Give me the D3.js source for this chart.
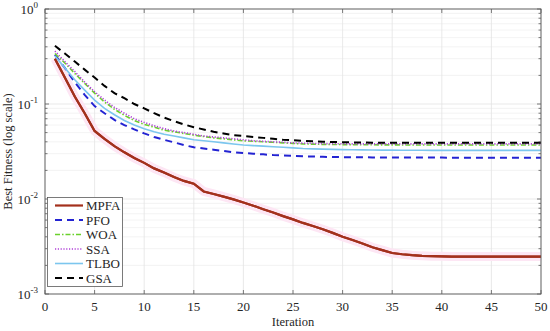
<!DOCTYPE html>
<html>
<head>
<meta charset="utf-8">
<script src="https://cdn.jsdelivr.net/npm/d3@7"></script>
<style>
  body { margin: 0; background: #fff; }
</style>
</head>
<body>
<svg id="plot"></svg>
<script>
// iteration axis
var iterations = d3.range(1, 51);

// fitness values, one per iteration
var mpfa = [0.30, 0.19, 0.12, 0.08, 0.052, 0.043, 0.036, 0.031, 0.027, 0.024,
            0.021, 0.019, 0.017, 0.0155, 0.0145, 0.012, 0.0113, 0.0106, 0.0099, 0.0092,
            0.0085, 0.0078, 0.0072, 0.0066, 0.0061, 0.0056, 0.0052, 0.0048, 0.0044, 0.0040,
            0.0037, 0.0034, 0.0031, 0.0029, 0.0027, 0.00262, 0.00256, 0.00252, 0.0025, 0.00249,
            0.00248, 0.00248, 0.00248, 0.00248, 0.00248, 0.00248, 0.00248, 0.00248, 0.00248, 0.00248];
var pfo = [0.33, 0.24, 0.17, 0.125, 0.095, 0.08, 0.068, 0.06, 0.054, 0.049,
           0.045, 0.042, 0.0395, 0.037, 0.035, 0.034, 0.033, 0.032, 0.031, 0.0305,
           0.030, 0.0295, 0.029, 0.0287, 0.0284, 0.0282, 0.028, 0.0278, 0.0277, 0.0276,
           0.0275, 0.0275, 0.0274, 0.0274, 0.0274, 0.0273, 0.0273, 0.0273, 0.0273, 0.0273,
           0.0272, 0.0272, 0.0272, 0.0272, 0.0272, 0.0272, 0.0272, 0.0272, 0.0272, 0.0272];
var woa = [0.34, 0.27, 0.21, 0.165, 0.13, 0.105, 0.088, 0.076, 0.067, 0.061,
           0.057, 0.053, 0.051, 0.049, 0.047, 0.0455, 0.044, 0.043, 0.042, 0.041,
           0.0405, 0.040, 0.0395, 0.039, 0.0385, 0.038, 0.0378, 0.0376, 0.0375, 0.0374,
           0.0373, 0.0372, 0.0372, 0.0371, 0.0371, 0.0371, 0.037, 0.037, 0.037, 0.037,
           0.037, 0.037, 0.037, 0.037, 0.037, 0.037, 0.037, 0.037, 0.037, 0.037];
var ssa = [0.36, 0.28, 0.22, 0.17, 0.135, 0.11, 0.092, 0.08, 0.07, 0.064,
           0.059, 0.055, 0.052, 0.050, 0.048, 0.046, 0.045, 0.044, 0.043, 0.042,
           0.041, 0.0405, 0.040, 0.0395, 0.039, 0.0387, 0.0385, 0.0383, 0.0382, 0.0381,
           0.038, 0.038, 0.038, 0.038, 0.038, 0.038, 0.038, 0.038, 0.038, 0.038,
           0.038, 0.038, 0.038, 0.038, 0.038, 0.038, 0.038, 0.038, 0.038, 0.038];
var tlbo = [0.32, 0.24, 0.18, 0.14, 0.11, 0.09, 0.077, 0.067, 0.06, 0.055,
            0.051, 0.048, 0.046, 0.044, 0.042, 0.041, 0.040, 0.039, 0.038, 0.037,
            0.0365, 0.036, 0.0355, 0.035, 0.0345, 0.034, 0.0337, 0.0335, 0.0333, 0.0331,
            0.033, 0.0329, 0.0328, 0.0327, 0.0327, 0.0326, 0.0326, 0.0326, 0.0325, 0.0325,
            0.0325, 0.0325, 0.0325, 0.0325, 0.0325, 0.0325, 0.0325, 0.0325, 0.0325, 0.0325];
var gsa = [0.41, 0.34, 0.28, 0.23, 0.19, 0.155, 0.13, 0.115, 0.10, 0.09,
           0.08, 0.072, 0.066, 0.061, 0.057, 0.054, 0.051, 0.049, 0.047, 0.046,
           0.045, 0.044, 0.043, 0.042, 0.0415, 0.041, 0.0405, 0.040, 0.0398, 0.0396,
           0.0394, 0.0393, 0.0392, 0.0391, 0.039, 0.039, 0.039, 0.039, 0.039, 0.039,
           0.039, 0.039, 0.039, 0.039, 0.039, 0.039, 0.039, 0.039, 0.039, 0.039];

var seriesNames = ["MPFA", "PFO", "WOA", "SSA", "TLBO", "GSA"];
var seriesValues = [mpfa, pfo, woa, ssa, tlbo, gsa];

var xTicks = [0, 5, 10, 15, 20, 25, 30, 35, 40, 45, 50];
var yTicks = [1e-3, 1e-2, 1e-1, 1];
var yTickExp = ["-3", "-2", "-1", "0"];

// line styles, same order as seriesNames
var styles = [
  {color: "#a3301c", width: 2.2, dash: null},
  {color: "#2323d2", width: 2, dash: "7,5"},
  {color: "#6bd12c", width: 1.6, dash: "5,2,1.5,2"},
  {color: "#b040d8", width: 1.6, dash: "1.2,1.6"},
  {color: "#7cc6ee", width: 1.6, dash: null},
  {color: "#000000", width: 2, dash: "7,5"}
];

var width = 550, height = 331;
var plotL = 45, plotR = 541, plotT = 9, plotB = 294;
var serif = "'Liberation Serif', 'Times New Roman', Times, serif";

var svg = d3.select("#plot").attr("width", width).attr("height", height)
  .attr("font-family", serif);

var x = d3.scaleLinear().domain([0, 50]).range([plotL, plotR]);
var y = d3.scaleLog().domain([1e-3, 1]).range([plotB, plotT]);

// minor log positions
var minor = [];
[1e-3, 1e-2, 1e-1].forEach(function (d) {
  for (var k = 2; k <= 9; k++) minor.push(d * k);
});

// grid
var grid = svg.append("g");
grid.selectAll(".gmin").data(minor).enter().append("line")
  .attr("x1", plotL).attr("x2", plotR)
  .attr("y1", function (d) { return y(d); }).attr("y2", function (d) { return y(d); })
  .attr("stroke", "#f0f0f0").attr("stroke-width", 0.8);
grid.selectAll(".gy").data(yTicks).enter().append("line")
  .attr("x1", plotL).attr("x2", plotR)
  .attr("y1", function (d) { return y(d); }).attr("y2", function (d) { return y(d); })
  .attr("stroke", "#e3e3e3").attr("stroke-width", 0.8);
grid.selectAll(".gx").data(xTicks).enter().append("line")
  .attr("y1", plotT).attr("y2", plotB)
  .attr("x1", function (d) { return x(d); }).attr("x2", function (d) { return x(d); })
  .attr("stroke", "#e3e3e3").attr("stroke-width", 0.8);

var mpfaLine = d3.line()
  .x(function (d) { return x(d); })
  .y(function (d, i) { return y(mpfa[i]); });

// faint band around the MPFA curve, as in the picture
svg.append("path")
  .datum(iterations)
  .attr("fill", "none")
  .attr("stroke", "#fde6f4")
  .attr("stroke-width", 9)
  .attr("d", mpfaLine);

// series lines
seriesValues.forEach(function (vals, s) {
  var line = d3.line()
    .x(function (d) { return x(d); })
    .y(function (d, i) { return y(vals[i]); });
  svg.append("path")
    .datum(iterations)
    .attr("fill", "none")
    .attr("stroke", styles[s].color)
    .attr("stroke-width", styles[s].width)
    .attr("stroke-dasharray", styles[s].dash)
    .attr("d", line);
});
// draw MPFA once more on top
svg.append("path")
  .datum(iterations)
  .attr("fill", "none")
  .attr("stroke", styles[0].color)
  .attr("stroke-width", styles[0].width)
  .attr("d", mpfaLine);

// frame
svg.append("rect")
  .attr("x", plotL).attr("y", plotT)
  .attr("width", plotR - plotL).attr("height", plotB - plotT)
  .attr("fill", "none").attr("stroke", "#5a5a5a").attr("stroke-width", 0.9);

// ticks
var ticks = svg.append("g").attr("stroke", "#5a5a5a").attr("stroke-width", 0.8);
xTicks.forEach(function (d) {
  ticks.append("line").attr("x1", x(d)).attr("x2", x(d)).attr("y1", plotB).attr("y2", plotB - 4);
  ticks.append("line").attr("x1", x(d)).attr("x2", x(d)).attr("y1", plotT).attr("y2", plotT + 4);
});
yTicks.forEach(function (d) {
  ticks.append("line").attr("x1", plotL).attr("x2", plotL + 4).attr("y1", y(d)).attr("y2", y(d));
  ticks.append("line").attr("x1", plotR).attr("x2", plotR - 4).attr("y1", y(d)).attr("y2", y(d));
});
minor.forEach(function (d) {
  ticks.append("line").attr("x1", plotL).attr("x2", plotL + 2.5).attr("y1", y(d)).attr("y2", y(d));
  ticks.append("line").attr("x1", plotR).attr("x2", plotR - 2.5).attr("y1", y(d)).attr("y2", y(d));
});

// tick labels
svg.selectAll(".xl").data(xTicks).enter().append("text")
  .attr("x", function (d) { return x(d); })
  .attr("y", 311)
  .attr("text-anchor", "middle")
  .attr("font-size", 13)
  .attr("fill", "#262626")
  .text(function (d) { return d; });

var yl = svg.selectAll(".yl").data(yTicks).enter().append("text")
  .attr("x", 38)
  .attr("y", function (d) { return y(d) + 5; })
  .attr("text-anchor", "end")
  .attr("font-size", 13)
  .attr("fill", "#262626");
yl.append("tspan").text("10");
yl.append("tspan")
  .attr("dy", -6)
  .attr("font-size", 9)
  .text(function (d, i) { return yTickExp[i]; });

// axis titles
svg.append("text")
  .attr("x", (plotL + plotR) / 2).attr("y", 326)
  .attr("text-anchor", "middle")
  .attr("font-size", 12.5)
  .attr("fill", "#262626")
  .text("Iteration");
svg.append("text")
  .attr("transform", "translate(12," + ((plotT + plotB) / 2) + ") rotate(-90)")
  .attr("text-anchor", "middle")
  .attr("font-size", 12.5)
  .attr("fill", "#262626")
  .text("Best Fitness (log scale)");

// legend
var lg = svg.append("g");
lg.append("rect")
  .attr("x", 47.5).attr("y", 197.5)
  .attr("width", 75).attr("height", 89)
  .attr("fill", "#fff").attr("stroke", "#5a5a5a").attr("stroke-width", 0.8);
seriesNames.forEach(function (name, s) {
  var ly = 205.5 + s * 14.5;
  lg.append("line")
    .attr("x1", 55).attr("x2", 83)
    .attr("y1", ly).attr("y2", ly)
    .attr("stroke", styles[s].color)
    .attr("stroke-width", styles[s].width)
    .attr("stroke-dasharray", styles[s].dash);
  lg.append("text")
    .attr("x", 86).attr("y", ly + 4.5)
    .attr("font-size", 13)
    .attr("fill", "#262626")
    .text(name);
});
</script>
</body>
</html>
